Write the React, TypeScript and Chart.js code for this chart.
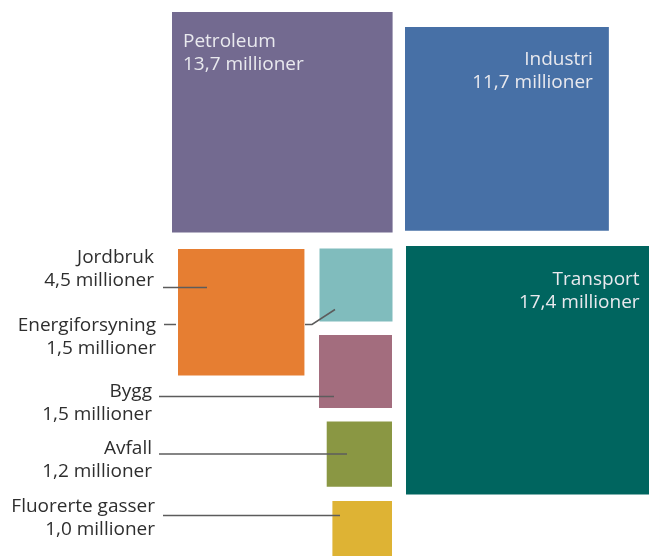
import { useEffect, useRef } from 'react';
import Chart from 'chart.js/auto';

// ---- data ----
const categories = ['Petroleum', 'Industri', 'Transport', 'Jordbruk', 'Energiforsyning', 'Bygg', 'Avfall', 'Fluorerte gasser'];
const values = [13.7, 11.7, 17.4, 4.5, 1.5, 1.5, 1.2, 1.0];
const unitLabel = 'millioner';

// ---- styles / layout ----
const colors = ['#736a90', '#4770a6', '#00655f', '#e67e32', '#80bcbd', '#a36d7e', '#8a9743', '#deb334'];
const W = 649;
const H = 556;
const PX_PER_SQRT = 59.6; // square side in px per sqrt(million tonnes)
const FONT = '"Open Sans", sans-serif';
const FONT_SIZE = 19;
const FONT_WEIGHT = 500;

// anchor of each square: x is left edge (align 'left') or right edge (align 'right'), y is top edge
const anchors = [
  { x: 172, y: 12, align: 'left' },
  { x: 405, y: 27, align: 'left' },
  { x: 406, y: 246, align: 'left' },
  { x: 178, y: 249, align: 'left' },
  { x: 392.5, y: 248.5, align: 'right' },
  { x: 392, y: 335, align: 'right' },
  { x: 392, y: 421.5, align: 'right' },
  { x: 392, y: 501, align: 'right' },
];

// inside labels: textAlign, offset from square edge x, first line y offset from top
const insideLabels = [
  { i: 0, align: 'left', dx: 11, dy: 30 },
  { i: 1, align: 'right', dx: -16, dy: 33 },
  { i: 2, align: 'right', dx: -15, dy: 34 },
];

// outside labels: right edge x, first line y, leader line points
const outsideLabels = [
  { i: 3, x: 154, y: 258, line: [[163, 287.5], [207, 287.5]] },
  { i: 4, x: 156, y: 326, line: [[164, 324.5], [176, 324.5]], line2: [[305, 324.5], [312, 324.5], [335, 309.5]] },
  { i: 5, x: 152, y: 392, line: [[159, 396.5], [334, 396.5]] },
  { i: 6, x: 152, y: 448.5, line: [[159, 454], [347, 454]] },
  { i: 7, x: 155, y: 507, line: [[163, 515.5], [340, 515.5]] },
];
const LINE_GAP = 23;

const fmt = (v: number) => v.toFixed(1).replace('.', ',') + ' ' + unitLabel;
const sideOf = (v: number) => Math.sqrt(v) * PX_PER_SQRT;

function squareBox(i: number) {
  const s = sideOf(values[i]);
  const a = anchors[i];
  const left = a.align === 'left' ? a.x : a.x - s;
  return { left, top: a.y, right: left + s, bottom: a.y + s, side: s };
}

const labelPlugin = {
  id: 'squareLabels',
  afterDatasetsDraw(chart: any) {
    const { ctx } = chart;
    const xs = chart.scales.x;
    const ys = chart.scales.y;
    const px = (v: number) => xs.getPixelForValue(v);
    const py = (v: number) => ys.getPixelForValue(v);
    ctx.save();
    ctx.font = `${FONT_WEIGHT} ${FONT_SIZE}px ${FONT}`;
    ctx.textBaseline = 'middle';

    insideLabels.forEach((l) => {
      const b = squareBox(l.i);
      const edge = l.align === 'left' ? b.left : b.right;
      ctx.fillStyle = '#e9e9ee';
      ctx.textAlign = l.align;
      ctx.fillText(categories[l.i], px(edge + l.dx), py(b.top + l.dy));
      ctx.fillText(fmt(values[l.i]), px(edge + l.dx), py(b.top + l.dy + LINE_GAP));
    });

    ctx.strokeStyle = '#5c5c5c';
    ctx.lineWidth = 1.5;
    outsideLabels.forEach((l) => {
      ctx.fillStyle = '#2e2e2e';
      ctx.textAlign = 'right';
      ctx.fillText(categories[l.i], px(l.x), py(l.y));
      ctx.fillText(fmt(values[l.i]), px(l.x), py(l.y + LINE_GAP));
      [l.line, (l as any).line2].forEach((pts: number[][] | undefined) => {
        if (!pts) return;
        ctx.beginPath();
        pts.forEach((p, k) => (k === 0 ? ctx.moveTo(px(p[0]), py(p[1])) : ctx.lineTo(px(p[0]), py(p[1]))));
        ctx.stroke();
      });
    });
    ctx.restore();
  },
};

export default function App() {
  const ref = useRef<HTMLCanvasElement | null>(null);
  useEffect(() => {
    if (!ref.current) return;
    const points = values.map((v, i) => {
      const b = squareBox(i);
      return { x: (b.left + b.right) / 2, y: (b.top + b.bottom) / 2, r: b.side / Math.SQRT2 };
    });
    const chart = new Chart(ref.current, {
      type: 'bubble',
      data: {
        labels: categories,
        datasets: [
          {
            label: 'Utslipp',
            data: points,
            backgroundColor: colors,
            borderWidth: 0,
            pointStyle: 'rect',
            clip: false as any,
          } as any,
        ],
      },
      options: {
        responsive: false,
        animation: false,
        events: [],
        layout: { padding: 0, autoPadding: false },
        plugins: { legend: { display: false }, tooltip: { enabled: false } },
        scales: {
          x: { type: 'linear', min: 0, max: W, display: false },
          y: { type: 'linear', min: 0, max: H, reverse: true, display: false },
        },
      },
      plugins: [labelPlugin],
    });
    return () => chart.destroy();
  }, []);
  return (
    <div style={{ position: 'fixed', left: 0, top: 0, width: W, height: H, background: '#ffffff' }}>
      <canvas ref={ref} width={W} height={H} style={{ width: W, height: H, display: 'block' }} />
    </div>
  );
}
